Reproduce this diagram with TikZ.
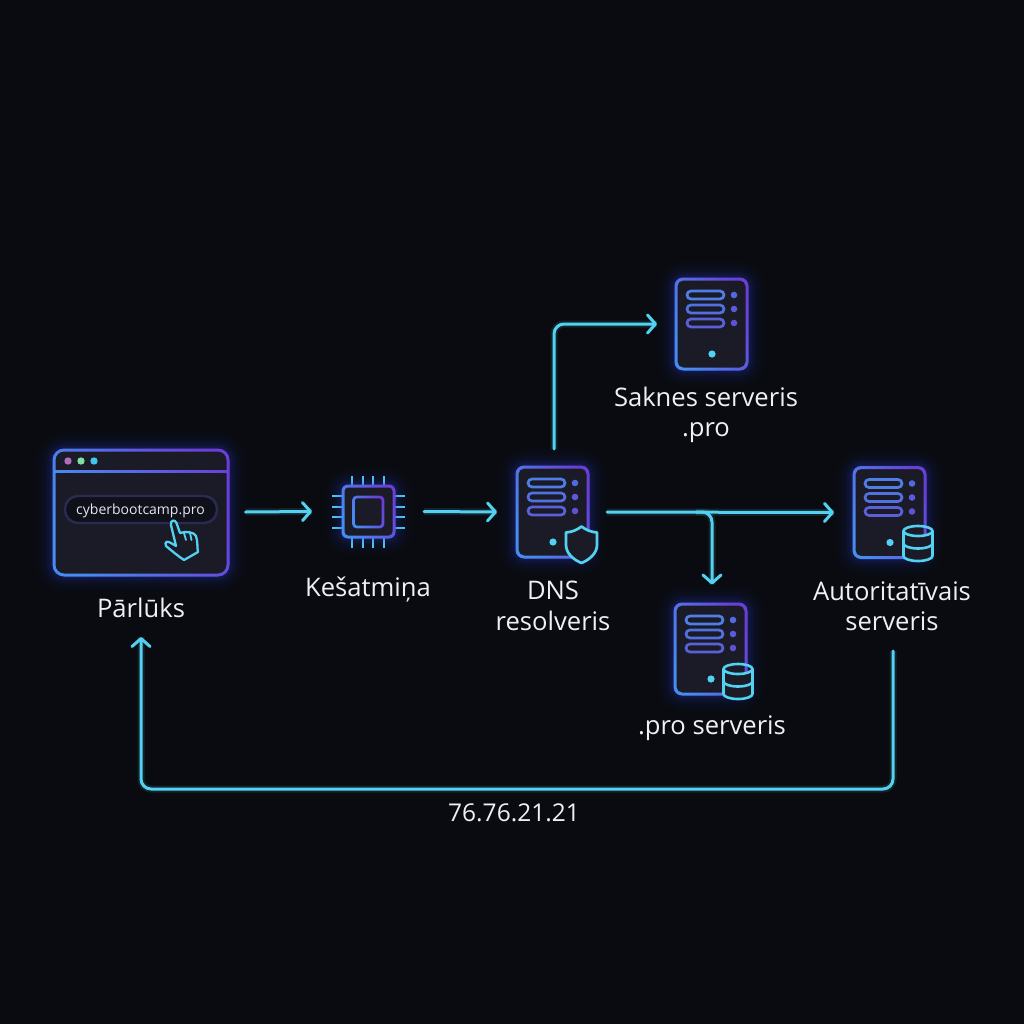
\documentclass[tikz,border=0pt]{standalone}
\usepackage{fontspec}
\setmainfont{Open Sans}
\usetikzlibrary{arrows.meta,calc}
\definecolor{bgc}{HTML}{0A0B10}
\definecolor{cy}{HTML}{52D2F0}
\definecolor{bluea}{HTML}{478CF0}
\definecolor{purpa}{HTML}{6A3FD6}
\definecolor{fillc}{HTML}{1A1B27}
\definecolor{glowc}{HTML}{2A45E8}
\definecolor{txt}{HTML}{EEF0F4}
\definecolor{pilld}{HTML}{0F1019}
\definecolor{pillb}{HTML}{2A2B52}
\definecolor{urlt}{HTML}{E4E6EE}
\definecolor{dota}{HTML}{B06CC0}
\definecolor{dotb}{HTML}{7DE0A0}
\definecolor{dotc}{HTML}{42C6F0}
\definecolor{rowa}{HTML}{4F7FE6}
\definecolor{rowb}{HTML}{5270E0}
\definecolor{rowc}{HTML}{5A5FDA}
\definecolor{sdota}{HTML}{5468E0}
\definecolor{sdotb}{HTML}{5A5ADB}
\definecolor{sdotc}{HTML}{6050D4}
\tikzset{
  x=1pt,y=-1pt,
  conn/.style={cy,line width=3pt,rounded corners=10pt,line cap=round,line join=round,
    preaction={draw,cy,opacity=.12,line width=7pt,-},
    -{Straight Barb[length=8pt,width=18pt,line width=3pt,round]}},
  lab/.style={text=txt,font=\fontsize{25.6}{30.5}\selectfont,align=center,inner sep=0pt},
  anchorbox/.style={inner sep=0pt,outer sep=0pt,draw=none},
  cyln/.style={cy,line width=2.6pt,line cap=round,line join=round},
  pill/.style={line width=2.7pt,rounded corners=4pt},
}
\newcommand{\glowbox}[5]{%
  \foreach \g/\o in {18/0.02,15/0.025,12/0.03,9/0.04,7/0.05,5/0.07,3/0.09,1.5/0.12}{%
    \fill[glowc,opacity=\o,rounded corners=#5+\g] (#1-\g,#2-\g) rectangle (#3+\g,#4+\g);}%
}
\newcommand{\gradbox}[6]{%
  \fill[fillc,rounded corners=#5] (#1,#2) rectangle (#3,#4);
  \shade[even odd rule,left color=bluea,right color=purpa,shading angle=115]
    [rounded corners=#5+#6/2] (#1-#6/2,#2-#6/2) rectangle (#3+#6/2,#4+#6/2)
    [rounded corners=#5-#6/2] (#1+#6/2,#2+#6/2) rectangle (#3-#6/2,#4-#6/2);
}
\newcommand{\serverbody}[2]{%
  \begin{scope}[shift={(#1,#2)}]
  \glowbox{0}{0}{71}{90}{8}
  \gradbox{0}{0}{71}{90}{7}{3}
  \draw[rowa,pill] (11,12) rectangle (48,20);
  \draw[rowb,pill] (11,26) rectangle (48,34);
  \draw[rowc,pill] (11,40) rectangle (48,48);
  \fill[sdota] (58,16) circle (3.3);
  \fill[sdotb] (58,30) circle (3.3);
  \fill[sdotc] (58,44) circle (3.3);
  \fill[cy] (36,75) circle (3.6);
  \end{scope}
}
\newcommand{\dbicon}[2]{%
  \begin{scope}[shift={(#1,#2)}]
  \fill[fillc] (-15,5) -- (-15,31) arc[start angle=180,end angle=0,x radius=15,y radius=5] -- (15,5)
     arc[start angle=0,end angle=180,x radius=15,y radius=5] -- cycle;
  \draw[cyln] (0,5) ellipse[x radius=14.5,y radius=5];
  \draw[cyln] (-14.5,5) -- (-14.5,30) arc[start angle=180,end angle=0,x radius=14.5,y radius=5] -- (14.5,5);
  \draw[cyln] (-14.5,17.5) arc[start angle=180,end angle=0,x radius=14.5,y radius=5];
  \end{scope}
}
\begin{document}
\begin{tikzpicture}
\useasboundingbox (0,0) rectangle (1024,1024);
\fill[bgc] (0,0) rectangle (1024,1024);

\node[anchorbox,minimum width=175pt,minimum height=125pt] (browser) at (141,512) {};
\node[anchorbox,minimum width=51pt,minimum height=51pt] (cache) at (368.5,511.5) {};
\node[anchorbox,minimum width=71pt,minimum height=90pt] (resolver) at (552.5,512) {};
\node[anchorbox,minimum width=71pt,minimum height=90pt] (root) at (711.5,324) {};
\node[anchorbox,minimum width=71pt,minimum height=90pt] (tld) at (710.5,648.5) {};
\node[anchorbox,minimum width=71pt,minimum height=90pt] (auth) at (889.5,512.5) {};

% browser
\glowbox{54}{450}{228}{575}{11}
\gradbox{54}{450}{228}{575}{10}{3}
\shade[left color=bluea,right color=purpa] (54,470) rectangle (228,472.8);
\fill[dota] (68,461) circle (3.7);
\fill[dotb] (81,461) circle (3.7);
\fill[dotc] (94,461) circle (3.7);
\draw[pillb,line width=2.4pt,fill=pilld,rounded corners=13pt] (65,496) rectangle (217,523);
\node[inner sep=0pt,text=urlt,font=\fontsize{14}{16}\selectfont] (url) at (140.5,511) {cyberbootcamp.pro};
% hand cursor
\draw[cy,line width=2.3pt,fill=fillc,line join=round,line cap=round]
  (171,525) .. controls (170,520) and (175,519) .. (176.5,523)
  -- (180,533) .. controls (186,531) and (194,532) .. (196,536)
  .. controls (198,542) and (197,548) .. (198,552)
  -- (184,560) .. controls (178,556) and (172,551) .. (166,546)
  .. controls (164,541) and (168,541) .. (171,543) -- (176,546) -- cycle;
\draw[cy,line width=1.8pt,line cap=round] (184,533) -- (186,540) (190,533) -- (191.5,540);

% chip
\foreach \p in {352,363,373,384}{\draw[cy,line width=2.6pt] (\p,476) -- (\p,486) (\p,537) -- (\p,548);}
\foreach \p in {496,507,517,528}{\draw[cy,line width=2.6pt] (332,\p) -- (343,\p) (394,\p) -- (405,\p);}
\glowbox{343}{486}{394}{537}{5}
\gradbox{343}{486}{394}{537}{5}{3}
\gradbox{353.5}{497}{383}{527}{3}{2.7}

% servers
\serverbody{517}{467}
\serverbody{676}{279}
\serverbody{675}{604}
\serverbody{854}{467.5}
\dbicon{738}{664}
\dbicon{918}{526}
% shield
\draw[cy,line width=2.7pt,fill=fillc,line join=round]
  (581.5,526.5) .. controls (586,530) and (591,532) .. (597,532.5)
  -- (597,545) .. controls (597,553) and (590,559.5) .. (581.5,563)
  .. controls (573,559.5) and (566,553) .. (566,545) -- (566,532.5)
  .. controls (572,532) and (577,530) .. (581.5,526.5) -- cycle;

% labels
\node[lab] (lbrowser) at (141,608) {Pārlūks};
\node[lab] (lcache) at (368,590) {Kešatmiņa};
\node[lab] (lresolver) at (553,606) {DNS\\resolveris};
\node[lab] (lroot) at (706,415) {Saknes serveris\\.pro};
\node[lab] (ltld) at (712,728) {.pro serveris};
\node[lab] (lauth) at (892,606) {Autoritatīvais\\serveris};
\node[lab,font=\fontsize{24.5}{30}\selectfont] (lip) at (514,813) {76.76.21.21};

% connectors
\coordinate (retbar) at (514,789);
\coordinate (retstart) at (893,651);
\coordinate (rettip) at (141,637);
\coordinate (split) at (712,512);
\draw[conn] ([xshift=17pt]browser.east) -- ([xshift=-31pt]cache.west);
\draw[conn] ([xshift=30pt]cache.east) -- ([xshift=-20pt]resolver.west);
\draw[conn] ([yshift=18pt,xshift=1.5pt]resolver.north) |- ([xshift=-19pt]root.west);
\draw[conn] ([xshift=19pt]resolver.east) -- ([xshift=-20pt]auth.west);
\draw[conn] ([xshift=-16pt]split) -| ([xshift=1.5pt,yshift=19pt]tld.north);
\draw[conn] (retstart) |- (retbar) -| (rettip);
\end{tikzpicture}
\end{document}
